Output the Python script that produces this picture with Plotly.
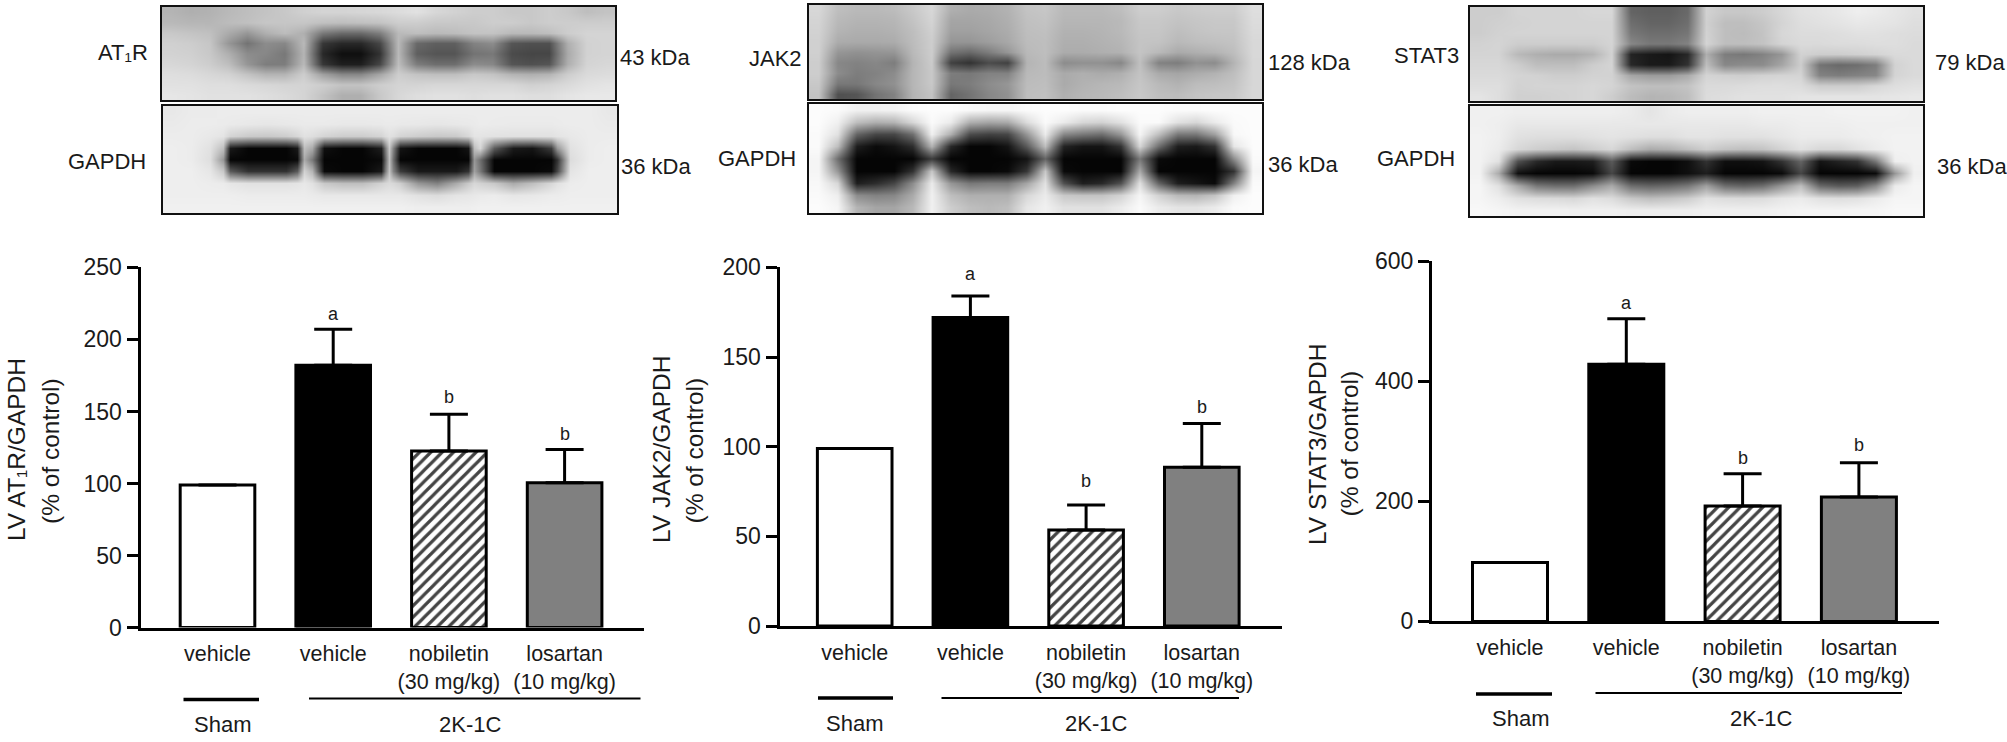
import plotly.graph_objects as go

W, H = 2007, 742
FONT = "Liberation Sans, Arial, sans-serif"

# --- bar data ---
categories = ["vehicle", "vehicle", "nobiletin<br>(30 mg/kg)", "losartan<br>(10 mg/kg)"]
bar_colors = ["#ffffff", "#000000", "#ffffff", "#808080"]
bar_hatch = ["", "", "/", ""]
sig_labels = ["a", "b", "b"]

at1r_values = [99, 182, 122.5, 100.5]
at1r_errors = [None, 25, 25.5, 23]
at1r_sig_y = [217.7, 159.7, 134]
at1r_ticks = [0, 50, 100, 150, 200, 250]

jak2_values = [99, 172, 53.5, 88.5]
jak2_errors = [None, 12, 14, 24.5]
jak2_sig_y = [196.6, 80.9, 122]
jak2_ticks = [0, 50, 100, 150, 200]

stat3_values = [98, 428, 192, 207]
stat3_errors = [None, 76, 54, 57]
stat3_sig_y = [530, 272.7, 293.7]
stat3_ticks = [0, 200, 400, 600]

# --- blot densities, grey levels (24 columns, 9 rows) ---
blot_at1r = [
    [180,175,178,185,190,195,200,208,212,212,214,216,220,225,215,210,205,205,200,200,205,200,190,195],
    [185,182,182,188,192,198,198,198,192,190,192,195,205,205,200,200,200,205,205,200,205,205,205,205],
    [200,196,192,170,150,175,188,175,120,105,105,125,185,190,185,188,195,195,185,185,190,205,212,212],
    [208,205,198,150,115,140,135,185,55,40,40,70,185,105,95,95,130,140,85,80,80,175,210,212],
    [210,208,200,175,140,135,120,180,40,15,15,50,185,95,85,85,115,120,75,70,70,170,210,212],
    [215,212,205,190,150,125,125,185,55,30,30,70,190,125,110,110,140,135,85,80,85,175,212,215],
    [222,220,215,210,195,180,180,205,160,135,135,165,205,195,190,190,200,195,180,175,180,205,218,220],
    [225,225,222,222,218,215,212,212,205,195,195,205,212,212,215,215,215,215,215,208,212,218,225,228],
    [230,228,225,225,225,222,218,212,195,175,175,200,215,222,225,225,222,225,225,222,222,228,232,232],
]
# this one has narrow gaps between the bands, so its columns are not evenly spaced
blot_gapdh1_cols = [53,110,167,205,225,280,337,393,425,447,470,507,563,620,677,690,702,715,735,790,847,903,940,957,975,1017,1073,1130,1187,1205,1243,1300,1357]
blot_gapdh1 = [
    [232,235,235,236,236,236,236,236,236,236,236,236,236,236,236,236,236,236,236,236,236,236,236,236,236,236,236,236,236,236,236,236,232],
    [234,236,236,235,234,232,230,232,233,234,234,234,232,232,233,234,234,234,233,232,230,232,233,234,236,235,234,234,234,235,236,236,234],
    [236,236,232,228,212,202,200,205,215,225,222,212,205,205,212,220,225,222,212,205,200,202,215,228,228,226,225,225,225,228,232,236,236],
    [238,236,225,190,25,5,5,5,25,190,170,15,5,5,30,120,200,130,20,5,5,5,20,190,215,90,25,20,60,150,225,236,238],
    [238,236,222,150,5,5,5,5,10,170,120,5,5,5,10,100,190,110,5,5,5,5,5,150,110,5,5,5,5,50,220,236,238],
    [238,238,230,200,90,50,50,50,90,210,180,10,5,5,25,120,195,130,60,25,25,25,50,160,120,5,5,5,10,70,228,238,238],
    [238,238,236,235,230,225,225,225,228,232,225,200,190,190,210,215,218,215,205,150,130,170,200,215,210,200,170,190,215,225,236,238,238],
    [238,238,238,238,238,236,236,236,236,236,234,232,232,232,232,232,232,232,232,225,220,228,230,232,234,236,230,232,236,236,238,238,238],
    [240,240,240,240,240,240,240,240,240,240,240,240,240,240,240,240,240,240,240,238,238,238,238,239,240,240,240,240,240,240,240,240,240],
]
blot_jak2 = [
    [215,190,185,185,188,200,215,175,170,172,178,195,198,185,185,185,190,205,205,200,203,205,205,222],
    [212,185,180,180,182,195,212,165,165,168,175,192,195,182,182,182,185,200,200,195,198,200,200,220],
    [210,180,175,175,178,190,208,160,160,165,172,190,192,178,178,180,185,198,198,190,195,198,198,218],
    [208,172,170,170,172,188,205,150,150,158,168,188,190,175,175,178,182,196,195,185,190,192,195,216],
    [208,150,145,148,150,185,205,115,105,125,150,185,190,172,172,175,178,196,185,170,175,180,190,216],
    [205,135,130,135,125,180,203,65,50,75,65,180,188,140,145,145,135,192,130,125,145,140,180,215],
    [205,140,125,130,140,182,200,125,120,130,130,185,188,170,175,170,175,195,170,165,172,178,190,215],
    [200,120,120,135,145,182,200,120,125,140,150,188,190,170,178,182,185,198,185,178,188,190,195,215],
    [195,80,85,115,130,180,195,100,115,135,145,190,192,175,182,185,190,200,190,188,195,198,200,215],
]
blot_gapdh2 = [
    [252,250,240,240,242,250,252,252,248,245,245,250,252,252,250,250,252,252,252,250,250,252,252,252],
    [252,240,190,175,180,215,250,235,175,165,170,220,250,235,215,210,225,250,250,225,215,235,250,252],
    [250,225,100,70,70,110,240,175,75,65,70,150,235,135,120,110,150,245,190,120,120,160,248,252],
    [250,190,30,10,20,45,180,40,5,5,20,90,190,35,20,20,50,215,110,30,25,50,230,252],
    [245,110,5,5,5,5,60,5,5,5,5,20,100,5,5,5,5,120,10,5,5,5,140,250],
    [245,150,5,5,5,50,200,40,5,5,10,55,200,10,5,5,5,170,5,5,5,5,50,245],
    [248,215,30,45,70,140,235,150,120,125,125,165,225,80,30,40,80,225,100,30,20,10,130,250],
    [250,238,140,130,135,170,240,190,175,175,175,215,235,200,195,195,210,245,210,185,180,195,240,252],
    [252,245,180,165,165,185,240,205,190,185,190,230,240,225,225,225,235,250,235,228,228,235,250,252],
]
blot_stat3 = [
    [205,205,212,212,212,212,215,215,100,95,95,105,210,200,200,205,215,225,228,232,238,235,230,225],
    [205,208,210,212,212,212,212,212,110,100,100,110,208,190,190,198,212,222,225,228,232,230,228,222],
    [205,210,212,212,212,212,212,212,120,110,110,118,210,190,188,195,215,220,220,222,225,225,222,220],
    [210,212,205,205,205,205,205,212,135,120,120,130,212,190,190,195,212,218,218,220,220,222,222,218],
    [212,212,185,175,170,170,180,210,35,25,20,40,175,125,120,130,150,210,205,205,208,212,218,218],
    [215,215,205,190,190,190,205,212,40,25,25,50,190,135,140,140,165,205,115,105,110,125,210,218],
    [218,218,212,210,205,205,210,210,165,155,155,170,212,208,205,210,212,212,130,125,130,135,212,218],
    [222,222,210,212,212,212,215,212,195,190,190,195,218,218,220,222,222,220,205,205,205,215,222,225],
    [228,222,208,208,210,212,215,205,188,180,182,190,220,222,225,225,225,228,228,228,228,228,230,232],
]
blot_gapdh3 = [
    [240,240,238,238,238,238,238,238,235,228,235,238,238,238,238,240,240,240,240,242,242,242,242,240],
    [240,238,232,232,232,232,232,232,232,232,232,232,232,232,232,235,235,238,238,238,240,240,240,240],
    [242,238,225,222,222,222,225,228,225,222,222,228,228,225,225,225,230,235,235,235,238,240,242,242],
    [242,235,215,205,200,195,205,215,190,170,175,190,205,195,190,195,210,225,215,215,225,235,242,242],
    [242,225,80,40,25,25,30,90,10,5,5,15,50,15,15,20,50,100,20,35,50,120,238,242],
    [242,170,15,5,5,5,10,70,5,5,5,15,30,5,5,5,10,70,5,5,5,10,150,240],
    [245,225,170,120,110,110,140,170,110,100,105,120,160,110,100,110,150,190,105,90,95,140,235,245],
    [245,238,225,220,218,215,225,220,200,190,195,205,225,220,218,220,230,235,225,222,225,235,245,245],
    [248,245,242,242,242,240,240,240,238,238,238,238,240,240,240,240,242,244,244,244,245,245,248,248],
]


def px_x(v):
    return v / W


def px_y(v):
    return 1 - v / H


def text(fig, s, x, y, size=22, anchor="center", angle=0):
    fig.add_annotation(text=s, x=px_x(x), y=px_y(y), xref="paper", yref="paper", showarrow=False,
                       xanchor=anchor, yanchor="middle", textangle=angle, font=dict(size=size, color="#1a1a1a"))


def hline(fig, x0, x1, y, width):
    fig.add_shape(type="line", xref="paper", yref="paper", x0=px_x(x0), x1=px_x(x1), y0=px_y(y), y1=px_y(y),
                  line=dict(color="#000000", width=width))


fig = go.Figure()
axis_no = 0


def next_axes():
    global axis_no
    axis_no += 1
    suffix = "" if axis_no == 1 else str(axis_no)
    return suffix


def add_blot(fig, grid, left, right, top, bottom, cols=None, col_range=(-0.5, 23.5)):
    n = next_axes()
    fig.add_trace(go.Heatmap(z=grid, x=cols, xaxis="x" + n, yaxis="y" + n, zmin=0, zmax=255, zsmooth="best", showscale=False,
                             colorscale=[[0, "#000000"], [1, "#ffffff"]], hoverinfo="skip"))
    frame = dict(showline=True, mirror=True, linecolor="#111111", linewidth=2, showticklabels=False, ticks="",
                 showgrid=False, zeroline=False, automargin=False)
    fig.update_layout({
        "xaxis" + n: dict(domain=[px_x(left), px_x(right)], range=list(col_range), anchor="y" + n, **frame),
        "yaxis" + n: dict(domain=[px_y(bottom), px_y(top)], range=[8.5, -0.5], anchor="x" + n, **frame),
    })


def add_bars(fig, values, errors, sig_y, ticks, ymax, left, right, top, y0, first, step):
    n = next_axes()
    fig.add_trace(go.Bar(x=[0, 1, 2, 3], y=values, width=0.645, xaxis="x" + n, yaxis="y" + n,
                         marker=dict(color=bar_colors, line=dict(color="#000000", width=3),
                                     pattern=dict(shape=bar_hatch, fgcolor="#000000", bgcolor="#ffffff",
                                                  fgopacity=1, size=8, solidity=0.4)),
                         error_y=dict(type="data", symmetric=False, array=errors, arrayminus=[0, 0, 0, 0],
                                      color="#000000", thickness=3, width=19),
                         hoverinfo="skip"))
    fig.update_layout({
        "xaxis" + n: dict(domain=[px_x(left), px_x(right)], anchor="y" + n, automargin=False,
                          range=[(left - first) / step, (right - first) / step],
                          tickvals=[0, 1, 2, 3], ticktext=categories, ticks="outside", ticklen=5, tickcolor="rgba(0,0,0,0)",
                          showline=True, linecolor="#000000", linewidth=3, showgrid=False, zeroline=False,
                          tickfont=dict(size=21.5, color="#1a1a1a")),
        "yaxis" + n: dict(domain=[px_y(y0), px_y(top)], anchor="x" + n, range=[0, ymax], tickvals=ticks,
                          automargin=False, ticks="outside", ticklen=11, tickwidth=3, tickcolor="#000000",
                          showline=True, linecolor="#000000", linewidth=3, showgrid=False, zeroline=False,
                          tickfont=dict(size=23, color="#1a1a1a")),
    })
    for i, lab in enumerate(sig_labels):
        fig.add_annotation(text=lab, x=i + 1, y=sig_y[i], xref="x" + n, yref="y" + n, showarrow=False,
                           font=dict(size=18, color="#1a1a1a"))


# Panel 1: AT1R
add_blot(fig, blot_at1r, 162, 615, 7, 100)
add_blot(fig, blot_gapdh1, 163, 617, 106, 213, cols=blot_gapdh1_cols, col_range=(25, 1385))
add_bars(fig, at1r_values, at1r_errors, at1r_sig_y, at1r_ticks, 250, 140.5, 644, 267.4, 627.5, 217.5, 115.7)
text(fig, "AT₁R", 150, 52, anchor="right")
text(fig, "GAPDH", 148, 161, anchor="right")
text(fig, "43 kDa", 618, 57, anchor="left")
text(fig, "36 kDa", 619, 166.5, anchor="left")
text(fig, "LV AT₁R/GAPDH", 16, 450, size=24.5, angle=-90)
text(fig, "(% of control)", 50, 451, size=24.5, angle=-90)
hline(fig, 183.5, 259, 699.5, 3.5)
hline(fig, 309, 640.5, 698.5, 2)
text(fig, "Sham", 222, 724)
text(fig, "2K-1C", 470, 724)

# Panel 2: JAK2
add_blot(fig, blot_jak2, 809, 1262, 5, 99)
add_blot(fig, blot_gapdh2, 809, 1262, 104, 213)
add_bars(fig, jak2_values, jak2_errors, jak2_sig_y, jak2_ticks, 200, 779.5, 1282, 267.4, 626, 854.7, 115.7)
text(fig, "JAK2", 803.5, 58, anchor="right")
text(fig, "GAPDH", 797.5, 158.5, anchor="right")
text(fig, "128 kDa", 1266, 62.5, anchor="left")
text(fig, "36 kDa", 1266, 164.7, anchor="left")
text(fig, "LV JAK2/GAPDH", 661, 450, size=24.5, angle=-90)
text(fig, "(% of control)", 693.5, 451, size=24.5, angle=-90)
hline(fig, 818, 893, 698, 3.5)
hline(fig, 941.5, 1239, 698, 2)
text(fig, "Sham", 854, 723)
text(fig, "2K-1C", 1096, 723)

# Panel 3: STAT3
add_blot(fig, blot_stat3, 1470, 1923, 7, 101)
add_blot(fig, blot_gapdh3, 1470, 1923, 106, 216)
add_bars(fig, stat3_values, stat3_errors, stat3_sig_y, stat3_ticks, 600, 1432, 1938.5, 261, 621.4, 1510, 116.3)
text(fig, "STAT3", 1461, 56, anchor="right")
text(fig, "GAPDH", 1457, 158.5, anchor="right")
text(fig, "79 kDa", 1933, 62.5, anchor="left")
text(fig, "36 kDa", 1935, 166.5, anchor="left")
text(fig, "LV STAT3/GAPDH", 1317, 444, size=24.5, angle=-90)
text(fig, "(% of control)", 1349, 443.5, size=24.5, angle=-90)
hline(fig, 1476, 1552, 694, 3.5)
hline(fig, 1595.5, 1902, 693, 2)
text(fig, "Sham", 1520, 718)
text(fig, "2K-1C", 1761, 718)

fig.update_layout(width=W, height=H, margin=dict(l=0, r=0, t=0, b=0), showlegend=False,
                  paper_bgcolor="#ffffff", plot_bgcolor="#ffffff", font=dict(family=FONT, color="#1a1a1a"))

fig.write_html("out.html", post_script="document.body.style.margin='0';", config=dict(displayModeBar=False))
